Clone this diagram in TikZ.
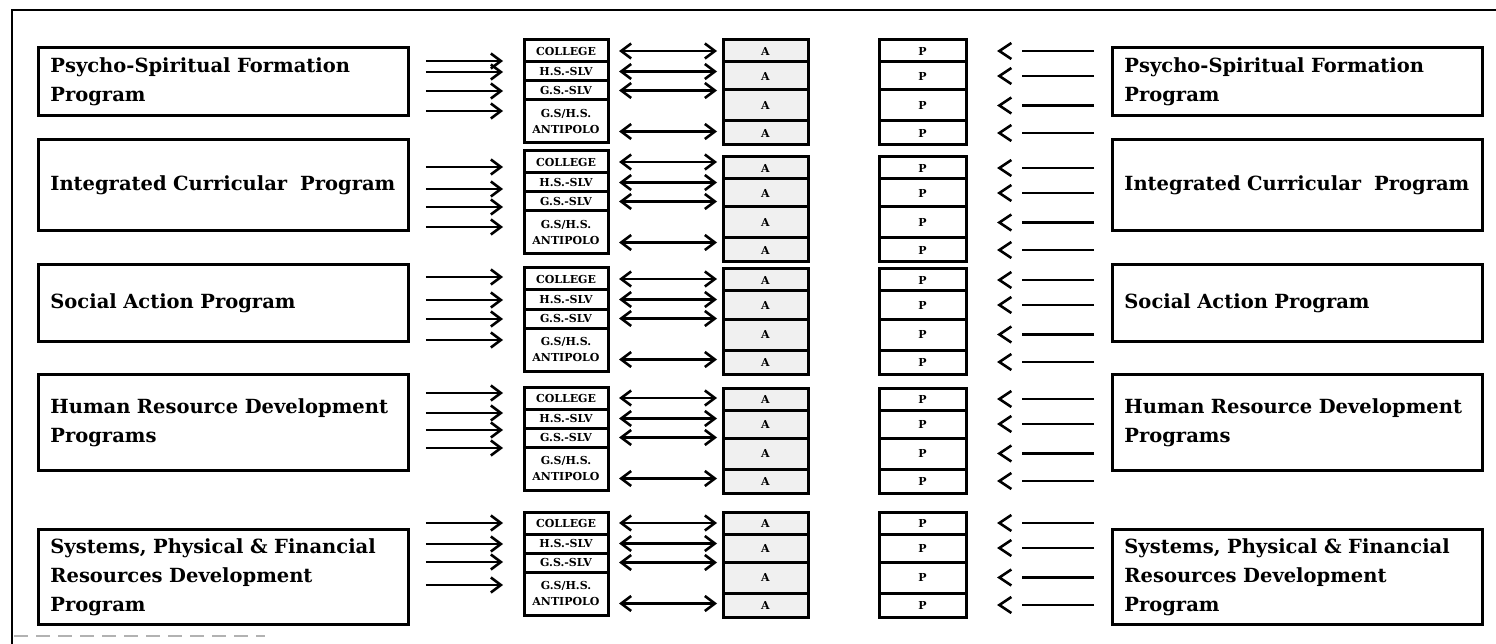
\documentclass[tikz,border=0pt]{standalone}
\usepackage{fontspec}
\setmainfont{DejaVu Serif}
\usetikzlibrary{arrows.meta,positioning}

\begin{document}
\begin{tikzpicture}[
  x=1pt, y=-1pt,
  prog/.style={draw, line width=2.8pt, anchor=north west, minimum width=370pt,
    text width=346pt, inner xsep=12pt, align=left,
    font=\bfseries\fontsize{19.5}{29}\selectfont},
  cell/.style={draw, line width=3pt, outer sep=0pt, inner sep=0pt,
    minimum width=84pt, align=center, font=\bfseries\fontsize{11}{16}\selectfont},
  acell/.style={cell, minimum width=85pt, fill=gray!12},
  pcell/.style={cell, minimum width=87pt},
  arr/.style={line width=2.6pt, -{Straight Barb[length=10pt,width=15pt]}},
  darr/.style={line width=2.6pt, {Straight Barb[length=10pt,width=15pt]}-{Straight Barb[length=10pt,width=15pt]}},
  larr/.style={line width=2.6pt, dash pattern=on 72pt off 60pt,
    -{Straight Barb[length=12pt,width=16pt]}}
]
\useasboundingbox (0,0) rectangle (1496,644);
% outer frame
\draw[line width=2pt] (12,644) -- (12,10) -- (1496,10);
\draw[gray!60, line width=1.4pt, dash pattern=on 14pt off 8pt] (14,636) -- (265,636);

\foreach \g/\ct/\at/\bt/\bh/\ly/\txt in {
  1/40/40/46/68/{61,72,91,111}/{Psycho-Spiritual Formation\\Program},
  2/151/157/138/91/{167,189,207,227}/{Integrated Curricular~~Program},
  3/268/269/263/77/{277,300,319,340}/{Social Action Program},
  4/387/388/373/96/{393,413,430,448}/{Human Resource Development\\Programs},
  5/512/512/528/95/{523,544,562,585}/{Systems, Physical \& Financial\\Resources Development\\Program}}{
  % program boxes
  \node[prog, minimum height=\bh pt] (lp\g) at (37,\bt) {\txt};
  \node[prog, minimum height=\bh pt] (rp\g) at (1111,\bt) {\txt};
  % school units
  \node[cell, minimum height=22pt, anchor=north west] (col\g-1) at (524,\ct) {COLLEGE};
  \node[cell, minimum height=19pt, below=0pt of col\g-1] (col\g-2) {H.S.-SLV};
  \node[cell, minimum height=19pt, below=0pt of col\g-2] (col\g-3) {G.S.-SLV};
  \node[cell, minimum height=43pt, below=0pt of col\g-3] (col\g-4) {G.S/H.S.\\ANTIPOLO};
  % A column
  \node[acell, minimum height=22pt, anchor=north west] (a\g-1) at (723,\at) {A};
  \node[acell, minimum height=28pt, below=0pt of a\g-1] (a\g-2) {A};
  \node[acell, minimum height=31pt, below=0pt of a\g-2] (a\g-3) {A};
  \node[acell, minimum height=24pt, below=0pt of a\g-3] (a\g-4) {A};
  % P column
  \node[pcell, minimum height=22pt, anchor=north west] (p\g-1) at (879,\at) {P};
  \node[pcell, minimum height=28pt, below=0pt of p\g-1] (p\g-2) {P};
  \node[pcell, minimum height=31pt, below=0pt of p\g-2] (p\g-3) {P};
  \node[pcell, minimum height=24pt, below=0pt of p\g-3] (p\g-4) {P};
  % connectors
  \foreach \y in \ly
    \draw[arr] ([xshift=16pt]lp\g.east |- 0,\y) -- ([xshift=-21pt]col\g-1.west |- 0,\y);
  \foreach \r in {1,2,3}
    \draw[darr] ([xshift=11pt]col\g-\r.east) -- ([xshift=-6pt]a\g-1.west |- col\g-\r.east);
  \draw[darr] ([xshift=11pt,yshift=-10pt]col\g-4.east) -- ([xshift=-6pt,yshift=-10pt]a\g-1.west |- col\g-4.east);
  \foreach \r in {1,...,4}
    \draw[larr] ([xshift=-17pt]rp\g.west |- p\g-\r.east) -- ([xshift=31pt]p\g-\r.east);
}
\end{tikzpicture}
\end{document}
